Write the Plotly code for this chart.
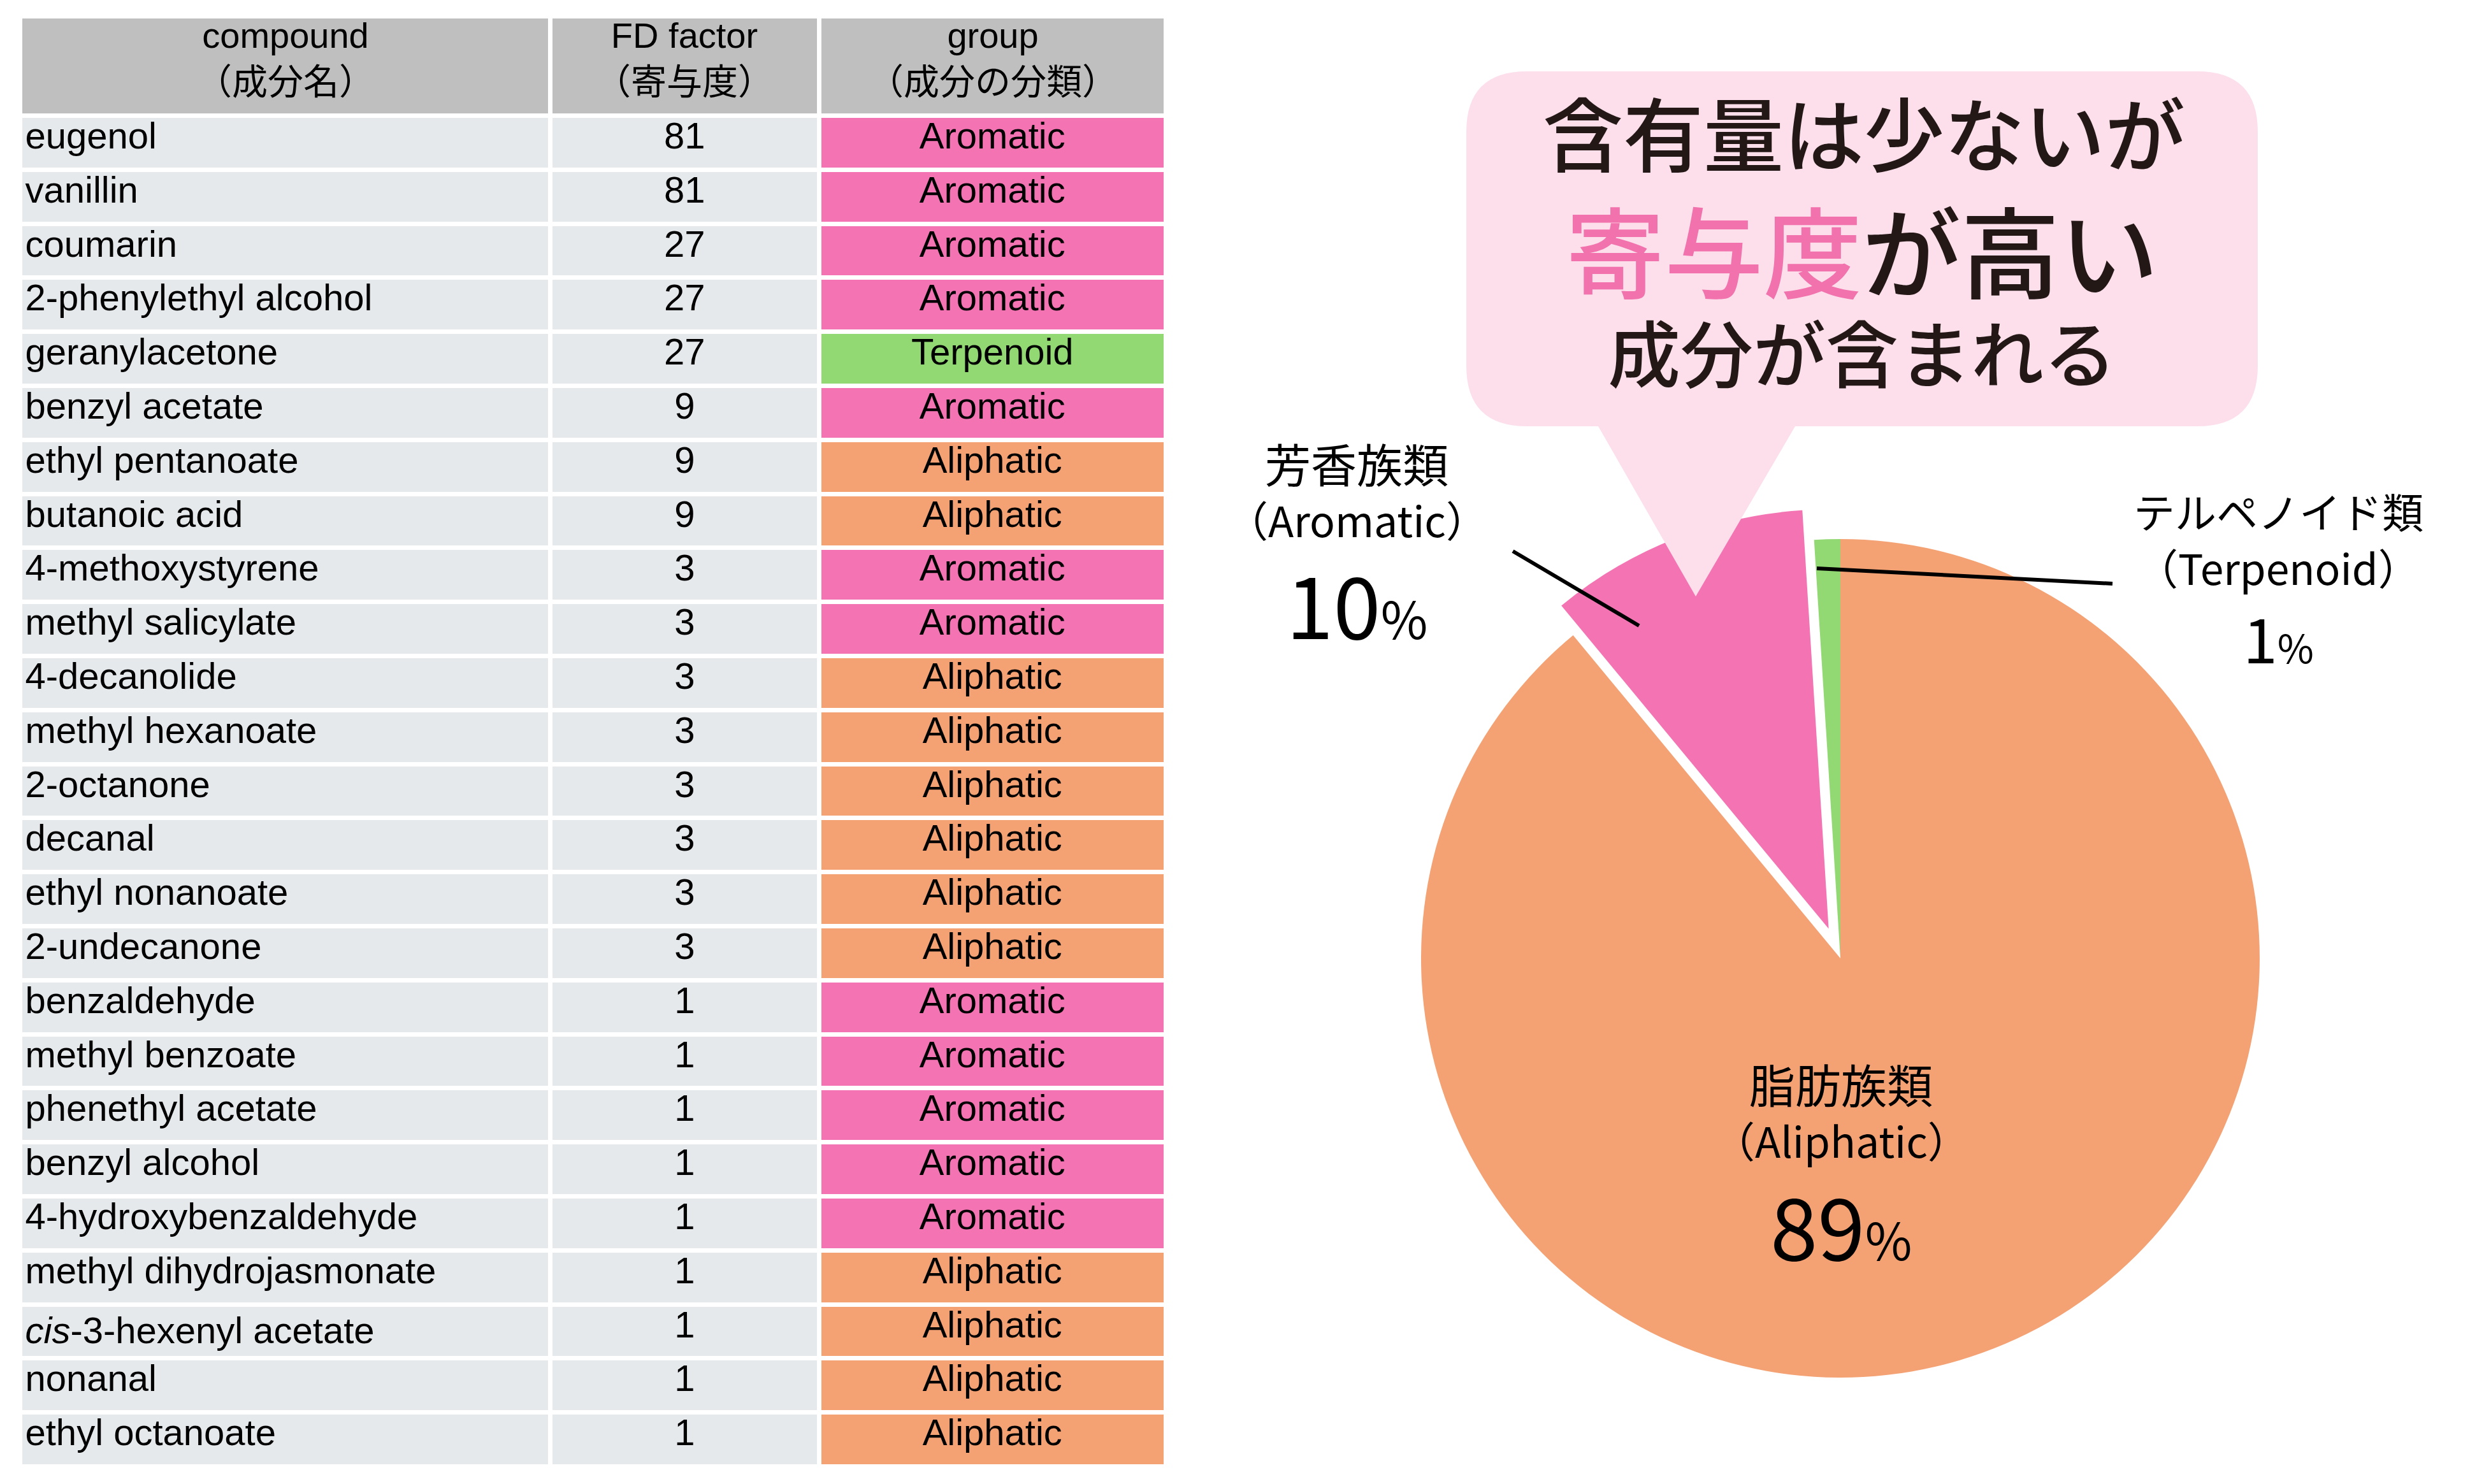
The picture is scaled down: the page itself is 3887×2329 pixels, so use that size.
import plotly.graph_objects as go

# Données du tableau (composés odorants)
compounds = [
    "eugenol", "vanillin", "coumarin", "2-phenylethyl alcohol", "geranylacetone",
    "benzyl acetate", "ethyl pentanoate", "butanoic acid", "4-methoxystyrene",
    "methyl salicylate", "4-decanolide", "methyl hexanoate", "2-octanone", "decanal",
    "ethyl nonanoate", "2-undecanone", "benzaldehyde", "methyl benzoate",
    "phenethyl acetate", "benzyl alcohol", "4-hydroxybenzaldehyde",
    "methyl dihydrojasmonate", "<i>cis</i>-3-hexenyl acetate", "nonanal", "ethyl octanoate",
]
fd_factor = [81, 81, 27, 27, 27, 9, 9, 9, 3, 3, 3, 3, 3, 3, 3, 3, 1, 1, 1, 1, 1, 1, 1, 1, 1]
groups = [
    "Aromatic", "Aromatic", "Aromatic", "Aromatic", "Terpenoid",
    "Aromatic", "Aliphatic", "Aliphatic", "Aromatic", "Aromatic",
    "Aliphatic", "Aliphatic", "Aliphatic", "Aliphatic", "Aliphatic", "Aliphatic",
    "Aromatic", "Aromatic", "Aromatic", "Aromatic", "Aromatic",
    "Aliphatic", "Aliphatic", "Aliphatic", "Aliphatic",
]
header = ["compound<br>（成分名）", "FD factor<br>（寄与度）", "group<br>（成分の分類）"]

# Données du camembert (寄与度の割合)
pie_groups = ["Aliphatic", "Aromatic", "Terpenoid"]
pie_names_ja = ["脂肪族類", "芳香族類", "テルペノイド類"]
pie_share = [89, 10, 1]

bubble_lines = ["含有量は少ないが", "寄与度", "が高い", "成分が含まれる"]

W, H = 3887, 2329
group_color = {"Aromatic": "#F474B3", "Aliphatic": "#F4A274", "Terpenoid": "#92D873"}
body_fill = "#E6E9EC"
ink = "#231815"
JP = "Noto Sans CJK JP"
TABLE_FONT = "Liberation Sans, " + JP


def px(x):
    return x / W


def py(y):
    return 1 - y / H


fig = go.Figure()

# Tableau : l'en-tête est dessiné par la table, ses libellés sont centrés ligne par ligne plus bas
fig.add_trace(go.Table(
    domain=dict(x=[px(23.5), px(1821.5)], y=[0.005, py(17.5)]),
    columnwidth=[832, 421.5, 544.5],
    header=dict(
        values=["", "", ""],
        fill_color="#BFBFBF",
        line=dict(color="white", width=7),
        height=156,
        font=dict(family=TABLE_FONT, size=56, color="black"),
    ),
    cells=dict(
        values=[compounds, fd_factor, groups],
        fill_color=[[body_fill] * len(compounds), [body_fill] * len(compounds),
                    [group_color[g] for g in groups]],
        line=dict(color="white", width=7),
        align=["left", "center", "center"],
        height=84.8,
        font=dict(family=TABLE_FONT, size=58, color="black"),
    ),
))

fig.add_trace(go.Pie(
    labels=pie_groups,
    values=pie_share,
    sort=False,
    direction="clockwise",
    rotation=0,
    pull=[0, 0.076, 0],
    marker=dict(colors=[group_color[g] for g in pie_groups], line=dict(color="white", width=0)),
    textinfo="none",
    showlegend=False,
    domain=dict(x=[px(2172), px(3588)], y=[py(2204), py(788)]),
))

# Bulle (rectangle arrondi + pointe)
L, R, T, B, rad = 2293, 3535, 104, 661, 95
pts = [
    ("M", L + rad, T), ("L", R - rad, T), ("Q", R, T, R, T + rad), ("L", R, B - rad),
    ("Q", R, B, R - rad, B), ("L", 2809, B), ("L", 2653, 928), ("L", 2500, B),
    ("L", L + rad, B), ("Q", L, B, L, B - rad), ("L", L, T + rad), ("Q", L, T, L + rad, T),
]
path = ""
for p in pts:
    cmd = p[0]
    coords = p[1:]
    segs = []
    for i in range(0, len(coords), 2):
        segs.append("%.5f,%.5f" % (px(coords[i]), py(coords[i + 1])))
    path += cmd + " " + " ".join(segs) + " "
path += "Z"

shapes = [
    dict(type="path", path=path, xref="paper", yref="paper", fillcolor="#FDDFEC",
         line=dict(width=0), layer="above"),
    dict(type="line", xref="paper", yref="paper", x0=px(2366), y0=py(857), x1=px(2564), y1=py(974),
         line=dict(color="black", width=6), layer="above"),
    dict(type="line", xref="paper", yref="paper", x0=px(2843), y0=py(884), x1=px(3307), y1=py(908),
         line=dict(color="black", width=6), layer="above"),
]

annotations = []


def note(text, x, y, size, color=ink, weight="normal", family=JP):
    annotations.append(dict(
        text=text, x=px(x), y=py(y), xref="paper", yref="paper", showarrow=False,
        xanchor="center", yanchor="middle", align="center",
        font=dict(family=family, size=size, color=color, weight=weight),
    ))


# Libellés de l'en-tête du tableau
for txt, xc in zip(header, [439.5, 1066, 1549.5]):
    note(txt, xc, 84, 56, color="black", family=TABLE_FONT)

# Texte de la bulle
note(bubble_lines[0], 2917, 197, 126, weight=500)
note("<span style='color:#F172AC'>" + bubble_lines[1] + "</span>" + bubble_lines[2],
     2914, 381, 155, weight=500)
note(bubble_lines[3], 2914, 541, 114, weight=500)

# Étiquettes du camembert
label_pos = {
    "Aliphatic": (2881, 1691, 1780, 1912, 72, 134, 80),
    "Aromatic": (2121, 718, 806, 937, 72, 134, 80),
    "Terpenoid": (3567, 793, 881, 990, 65, 97, 62),
}
for g, ja, share in zip(pie_groups, pie_names_ja, pie_share):
    x, y1, y2, y3, jsize, big, small = label_pos[g]
    note(ja, x, y1, jsize, color="black")
    note("（" + g + "）", x, y2, 66, color="black")
    note(str(share) + "<span style='font-size:%dpx'>%%</span>" % small, x, y3, big, color="black")

fig.update_layout(
    width=W, height=H,
    margin=dict(l=0, r=0, t=0, b=0, pad=0),
    paper_bgcolor="white",
    plot_bgcolor="white",
    shapes=shapes,
    annotations=annotations,
)

fig.write_html("out.html")
